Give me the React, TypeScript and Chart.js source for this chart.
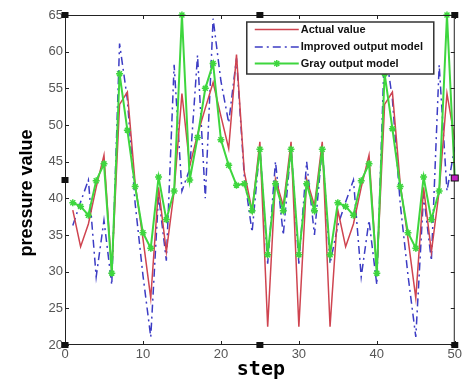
import React, { useEffect, useRef } from "react";
import { Chart, registerables } from "chart.js";
Chart.register(...registerables);

const steps = [
  1, 2, 3, 4, 5, 6, 7, 8, 9, 10,
  11, 12, 13, 14, 15, 16, 17, 18, 19, 20,
  21, 22, 23, 24, 25, 26, 27, 28, 29, 30,
  31, 32, 33, 34, 35, 36, 37, 38, 39, 40,
  41, 42, 43, 44, 45, 46, 47, 48, 49, 50,
];

const actualValue = [
  38.4, 33.4, 36.5, 41.5, 45.9, 30.0, 52.8, 54.5, 42.0, 34.5,
  26.4, 41.5, 32.7, 41.0, 54.3, 44.4, 48.7, 52.3, 55.8, 51.2,
  46.8, 59.6, 43.6, 38.3, 47.7, 22.5, 42.6, 39.0, 47.7, 22.5,
  42.6, 39.0, 47.7, 22.5, 38.4, 33.4, 36.5, 41.5, 45.9, 30.0,
  52.8, 54.5, 42.0, 34.5, 26.4, 41.5, 32.7, 41.0, 54.3, 48.0,
];

const improvedOutput = [
  36.3, 39.5, 42.5, 29.3, 37.0, 28.2, 61.1, 53.5, 39.3, 29.5,
  21.1, 40.5, 31.5, 58.2, 41.0, 44.0, 59.5, 40.0, 64.5, 56.0,
  50.3, 59.1, 43.0, 35.4, 47.0, 31.1, 45.0, 35.0, 47.0, 31.1,
  45.0, 35.0, 47.0, 31.1, 36.3, 39.5, 42.5, 29.3, 37.0, 28.2,
  61.1, 53.5, 39.3, 29.5, 21.1, 40.5, 31.5, 58.2, 41.0, 47.0,
];

const grayOutput = [
  39.4, 38.9, 37.7, 42.4, 44.7, 29.8, 57.0, 49.3, 41.6, 35.3,
  33.2, 42.9, 37.1, 41.0, 65.0, 42.5, 48.3, 55.0, 58.4, 48.0,
  44.5, 41.8, 42.0, 38.3, 46.7, 32.3, 42.0, 38.3, 46.7, 32.3,
  42.0, 38.3, 46.7, 32.3, 39.4, 38.9, 37.7, 42.4, 44.7, 29.8,
  57.0, 49.5, 41.6, 35.3, 33.2, 42.9, 37.1, 41.0, 65.0, 42.8,
];

const seriesNames = ["Actual value", "Improved output model", "Gray output model"];
const xTicks = [0, 10, 20, 30, 40, 50];
const yTicks = [20, 25, 30, 35, 40, 45, 50, 55, 60, 65];

const RED = "#cf4450";
const BLUE = "#3c3cc4";
const GREEN = "#3ed63e";

const framePlugin = {
  id: "matlabFrame",
  afterDraw(chart: any) {
    const { ctx, chartArea: a, scales } = chart;
    const xs = scales.x;
    const ys = scales.y;
    ctx.save();
    ctx.strokeStyle = "#222";
    ctx.lineWidth = 1;
    ctx.strokeRect(a.left + 0.5, a.top + 0.5, a.right - a.left - 1, a.bottom - a.top - 1);
    ctx.beginPath();
    for (const v of xTicks) {
      const px = Math.round(xs.getPixelForValue(v)) + 0.5;
      ctx.moveTo(px, a.bottom);
      ctx.lineTo(px, a.bottom - 4);
      ctx.moveTo(px, a.top);
      ctx.lineTo(px, a.top + 4);
    }
    for (const v of yTicks) {
      const py = Math.round(ys.getPixelForValue(v)) + 0.5;
      ctx.moveTo(a.left, py);
      ctx.lineTo(a.left + 4, py);
      ctx.moveTo(a.right, py);
      ctx.lineTo(a.right - 4, py);
    }
    ctx.stroke();

    const midX = (a.left + a.right) / 2;
    const midY = (a.top + a.bottom) / 2;
    const handles: [number, number, string][] = [
      [a.left, a.top, "#111"],
      [midX, a.top, "#111"],
      [a.right, a.top, "#111"],
      [a.left, midY, "#111"],
      [a.right, midY - 2, "#c020c0"],
      [a.left, a.bottom, "#111"],
      [midX, a.bottom, "#111"],
      [a.right, a.bottom, "#111"],
    ];
    for (const [hx, hy, c] of handles) {
      ctx.fillStyle = c;
      ctx.fillRect(hx - 3.5, hy - 3, 7, 6);
      if (c !== "#111") {
        ctx.strokeStyle = "#111";
        ctx.strokeRect(hx - 3.5, hy - 3, 7, 6);
      }
    }

    const lx = a.right - 208;
    const ly = a.top + 7;
    const lw = 187;
    const lh = 52;
    ctx.fillStyle = "#fff";
    ctx.fillRect(lx, ly, lw, lh);
    ctx.strokeStyle = "#333";
    ctx.lineWidth = 1.5;
    ctx.strokeRect(lx, ly, lw, lh);
    const rows = [ly + 7.5, ly + 25, ly + 41.5];
    const lineX0 = lx + 8;
    const lineX1 = lx + 52;
    ctx.lineWidth = 1.5;
    ctx.strokeStyle = RED;
    ctx.setLineDash([]);
    ctx.beginPath();
    ctx.moveTo(lineX0, rows[0]);
    ctx.lineTo(lineX1, rows[0]);
    ctx.stroke();
    ctx.strokeStyle = BLUE;
    ctx.setLineDash([8, 4, 2, 4]);
    ctx.beginPath();
    ctx.moveTo(lineX0, rows[1]);
    ctx.lineTo(lineX1, rows[1]);
    ctx.stroke();
    ctx.setLineDash([]);
    ctx.strokeStyle = GREEN;
    ctx.lineWidth = 2;
    ctx.beginPath();
    ctx.moveTo(lineX0, rows[2]);
    ctx.lineTo(lineX1, rows[2]);
    ctx.stroke();
    const sx = (lineX0 + lineX1) / 2;
    const sy = rows[2];
    ctx.lineWidth = 1.5;
    ctx.beginPath();
    for (let k = 0; k < 4; k++) {
      const ang = (k * Math.PI) / 4;
      ctx.moveTo(sx - 3.5 * Math.cos(ang), sy - 3.5 * Math.sin(ang));
      ctx.lineTo(sx + 3.5 * Math.cos(ang), sy + 3.5 * Math.sin(ang));
    }
    ctx.stroke();

    ctx.fillStyle = "#111";
    ctx.font = "bold 11px 'Liberation Sans', Arial, sans-serif";
    ctx.textAlign = "left";
    ctx.textBaseline = "middle";
    seriesNames.forEach((n, i) => ctx.fillText(n, lineX1 + 2, rows[i]));

    ctx.fillStyle = "#000";
    ctx.font = "bold 20px 'DejaVu Sans Mono', monospace";
    ctx.textAlign = "center";
    ctx.textBaseline = "middle";
    ctx.fillText("step", midX + 1, a.bottom + 25);

    ctx.save();
    ctx.translate(a.left - 38, midY + 13);
    ctx.rotate(-Math.PI / 2);
    ctx.font = "bold 18px 'Liberation Sans', Arial, sans-serif";
    ctx.fillText("pressure value", 0, 0);
    ctx.restore();

    ctx.restore();
  },
};

export default function App() {
  const ref = useRef<HTMLCanvasElement>(null);
  useEffect(() => {
    const canvas = ref.current;
    if (!canvas) return;
    const toPts = (arr: number[]) => steps.map((s, i) => ({ x: s, y: arr[i] }));
    const tickFont = { family: "'Liberation Sans', Arial, sans-serif", size: 13 };
    const chart = new Chart(canvas, {
      type: "line",
      data: {
        datasets: [
          {
            label: seriesNames[2],
            data: toPts(grayOutput),
            borderColor: GREEN,
            backgroundColor: GREEN,
            borderWidth: 2,
            pointStyle: "star",
            pointRadius: 3.5,
            pointBorderWidth: 1.5,
            pointBorderColor: GREEN,
            tension: 0,
            clip: false as any,
            order: 0,
          },
          {
            label: seriesNames[0],
            data: toPts(actualValue),
            borderColor: RED,
            borderWidth: 1.5,
            pointRadius: 0,
            tension: 0,
            order: 1,
          },
          {
            label: seriesNames[1],
            data: toPts(improvedOutput),
            borderColor: BLUE,
            borderWidth: 1.5,
            borderDash: [8, 4, 2, 4],
            pointRadius: 0,
            tension: 0,
            order: 2,
          },
        ],
      },
      options: {
        responsive: false,
        animation: false,
        layout: { padding: { top: 15, right: 8, left: 0, bottom: 0 } },
        plugins: { legend: { display: false }, tooltip: { enabled: false } },
        scales: {
          x: {
            type: "linear",
            min: 0,
            max: 50,
            ticks: { stepSize: 10, font: tickFont, color: "#555", padding: 2, maxRotation: 0 },
            grid: { display: false, drawTicks: false },
            border: { display: false },
            afterFit: (s: any) => {
              s.height = 34;
            },
          },
          y: {
            min: 20,
            max: 65,
            ticks: { stepSize: 5, font: tickFont, color: "#555", padding: 2 },
            grid: { display: false, drawTicks: false },
            border: { display: false },
            afterFit: (s: any) => {
              s.width = 65;
            },
          },
        },
      },
      plugins: [framePlugin],
    });
    return () => chart.destroy();
  }, []);
  return (
    <div style={{ position: "fixed", left: 0, top: 0, width: 464, height: 379, background: "#fff" }}>
      <canvas ref={ref} width={464} height={379} style={{ display: "block" }} />
    </div>
  );
}
